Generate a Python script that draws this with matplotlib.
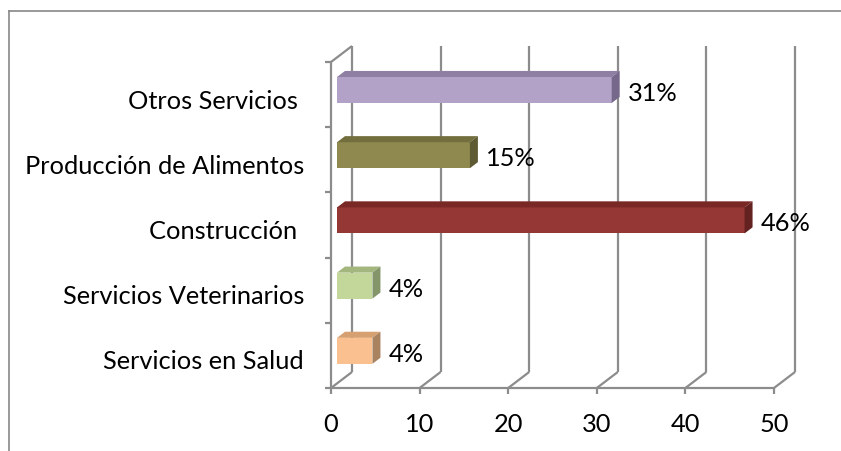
import matplotlib
matplotlib.use("Agg")
import matplotlib.pyplot as plt
from matplotlib.patches import Polygon
from matplotlib.lines import Line2D

categories = ["Servicios en Salud", "Servicios Veterinarios", "Construcción ",
              "Producción de Alimentos", "Otros Servicios "]
values = [4, 4, 46, 15, 31]
value_labels = ["4%", "4%", "46%", "15%", "31%"]
xticks = [0, 10, 20, 30, 40, 50]
xticklabels = ["0", "10", "20", "30", "40", "50"]

front_colors = ["#FAC090", "#C4D79B", "#953735", "#8F8950", "#B3A2C7"]
top_colors = ["#D7A070", "#A3B67D", "#7A2826", "#736E3E", "#8E7FA3"]
side_colors = ["#A98260", "#84956A", "#632120", "#5E5A33", "#76688A"]

W, H = 841, 452
fig = plt.figure(figsize=(W / 100, H / 100), dpi=100)

# pixel geometry
x0px, x50px = 331, 774
ybot_px, ytop_px = 389, 63
sx = (x50px - x0px) / 50.0          # px per x unit
sy = (ybot_px - ytop_px) / 5.0      # px per category
ax_left, ax_right, ax_top = 331, 805, 38
ax = fig.add_axes([ax_left / W, (H - ybot_px) / H, (ax_right - ax_left) / W, (ybot_px - ax_top) / H])
ax.set_xlim(0, (ax_right - ax_left) / sx)
ax.set_ylim(-0.5, -0.5 + (ybot_px - ax_top) / sy)
ax.axis("off")

DX = 21 / sx
DY = 16 / sy
gc = "#8C8C8C"
lw = 1.6

def line(xs, ys):
    ax.add_line(Line2D(xs, ys, color=gc, lw=lw, clip_on=False, solid_capstyle="butt", zorder=1))

# back wall verticals and floor diagonals
for t in xticks:
    line([t + DX, t + DX], [-0.5 + DY, 4.5 + DY])
    line([t, t + DX], [-0.5, -0.5 + DY])
    line([t, t], [-0.5, -0.5 - 6 / sy])
# front baseline
line([0, 50], [-0.5, -0.5])
# left wall
line([0, 0], [-0.5, 4.5])
line([0, DX], [4.5, 4.5 + DY])
for k in range(6):
    line([0, -6 / sx], [-0.5 + k, -0.5 + k])

# bars
f0, f1 = 6 / 21, 14 / 21
bh = 26 / sy
for i, v in enumerate(values):
    yc = i + f0 * DY
    ax.barh(yc, v, left=f0 * DX, height=bh, color=front_colors[i], edgecolor="none", zorder=3)
    xl = f0 * DX
    xr = f0 * DX + v
    yt = yc + bh / 2
    yb = yc - bh / 2
    ddx = (f1 - f0) * DX
    ddy = (f1 - f0) * DY
    ax.add_patch(Polygon([(xl, yt), (xr, yt), (xr + ddx, yt + ddy), (xl + ddx, yt + ddy)],
                         closed=True, facecolor=top_colors[i], edgecolor="none", zorder=3))
    ax.add_patch(Polygon([(xr, yb), (xr, yt), (xr + ddx, yt + ddy), (xr + ddx, yb + ddy)],
                         closed=True, facecolor=side_colors[i], edgecolor="none", zorder=3))

fam = ["Lato", "DejaVu Sans"]
# fit font size so "Producción de Alimentos" spans ~280 px
fs = 14
renderer = fig.canvas.get_renderer()
tt = fig.text(0, 0, "Producción de Alimentos", fontsize=fs, family=fam)
wpx = tt.get_window_extent(renderer).width
tt.remove()
fs = fs * 280.0 / wpx

for i, v in enumerate(values):
    yc = i + f0 * DY
    ax.text(f1 * DX + v + 8 / sx, yc - 10 / sy, value_labels[i], fontsize=fs, family=fam,
            va="baseline", ha="left", color="black", clip_on=False)
for i, c in enumerate(categories):
    ax.text(-27 / sx, i - 13 / sy, c, fontsize=fs, family=fam, va="baseline", ha="right",
            color="black", clip_on=False)
for t, lab in zip(xticks, xticklabels):
    ax.text(t, -0.5 - 43 / sy, lab, fontsize=fs, family=fam, va="baseline", ha="center",
            color="black", clip_on=False)

# outer frame
fig.add_artist(Line2D([9 / W, 9 / W], [0, 1 - 12 / H], color="#888888", lw=1.2, transform=fig.transFigure))
fig.add_artist(Line2D([9 / W, 1], [1 - 12 / H, 1 - 12 / H], color="#888888", lw=1.2, transform=fig.transFigure))

fig.savefig("out.png", dpi=100)
